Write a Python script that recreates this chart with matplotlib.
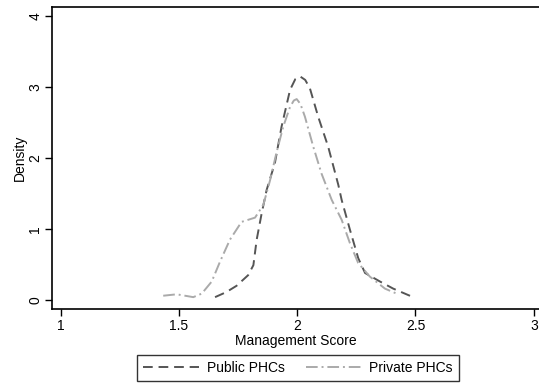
import matplotlib.pyplot as plt

plt.rcParams['font.family'] = ['Liberation Sans', 'DejaVu Sans']

# Kernel density estimates
public_x = [1.653, 1.700, 1.744, 1.793, 1.815, 1.829, 1.850, 1.871, 1.906, 1.934,
            1.970, 1.992, 2.012, 2.034, 2.054, 2.089, 2.131, 2.174, 2.188, 2.223,
            2.258, 2.287, 2.350, 2.406, 2.490]
public_y = [0.04, 0.11, 0.20, 0.35, 0.49, 0.85, 1.22, 1.55, 1.93, 2.44,
            2.96, 3.11, 3.15, 3.10, 2.98, 2.58, 2.16, 1.62, 1.41, 0.99,
            0.59, 0.38, 0.26, 0.16, 0.04]

private_x = [1.434, 1.491, 1.561, 1.597, 1.639, 1.674, 1.716, 1.765, 1.822, 1.857,
             1.885, 1.913, 1.941, 1.970, 1.986, 1.998, 2.014, 2.033, 2.068, 2.103,
             2.146, 2.188, 2.223, 2.258, 2.307, 2.371, 2.420]
private_y = [0.06, 0.08, 0.04, 0.09, 0.26, 0.54, 0.85, 1.10, 1.16, 1.34,
             1.68, 2.08, 2.44, 2.72, 2.81, 2.83, 2.76, 2.58, 2.16, 1.78,
             1.41, 1.13, 0.80, 0.52, 0.33, 0.16, 0.09]

x_ticks = [1, 1.5, 2, 2.5, 3]
x_tick_labels = ['1', '1.5', '2', '2.5', '3']
y_ticks = [0, 1, 2, 3, 4]

fig = plt.figure(figsize=(5.39, 3.85), dpi=100)
ax = fig.add_axes([52 / 539, 76 / 385, 1 - 52 / 539, 302 / 385])

ax.plot(public_x, public_y, color='#555555', lw=1.4, linestyle=(0, (5, 3)),
        label='Public PHCs')
ax.plot(private_x, private_y, color='#aaaaaa', lw=1.4,
        linestyle=(0, (6, 2, 1, 2)), label='Private PHCs')

ax.set_xlim(0.964, 3.022)
ax.set_ylim(-0.127, 4.127)
ax.set_xticks(x_ticks)
ax.set_xticklabels(x_tick_labels)
ax.set_yticks(y_ticks)
for lab in ax.get_yticklabels():
    lab.set_rotation(90)
    lab.set_va('center')

ax.spines['right'].set_visible(False)
for s in ['left', 'bottom', 'top']:
    ax.spines[s].set_linewidth(1.2)
ax.tick_params(direction='out', length=5, width=1, labelsize=10, pad=2)

ax.set_xlabel('Management Score', fontsize=10, labelpad=1)
ax.set_ylabel('Density', fontsize=10, labelpad=1)

leg = fig.legend(loc='center', bbox_to_anchor=(298 / 539, 1 - 368 / 385),
                 ncol=2, fontsize=10, frameon=True, fancybox=False,
                 edgecolor='black', handlelength=4, columnspacing=1.5,
                 borderpad=0.4, handletextpad=0.6)
leg.get_frame().set_linewidth(1.0)

fig.savefig('out.png', dpi=100)
